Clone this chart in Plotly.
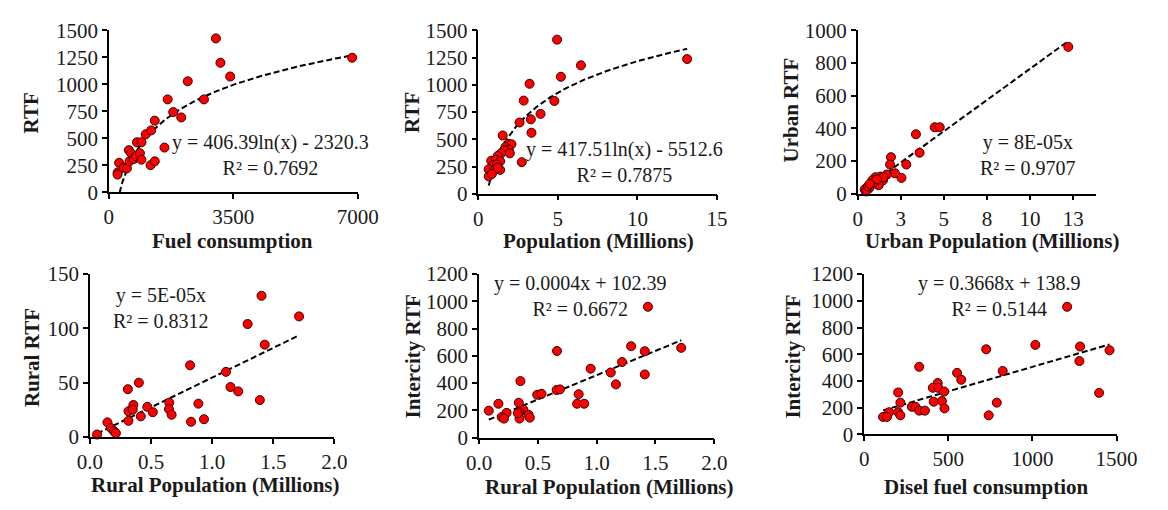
import numpy as np
import plotly.graph_objects as go

# ---------------- data ----------------
# Panel 1: total RTF vs fuel consumption
fuel = [250, 245, 290, 418, 508, 563, 628, 582, 699, 765, 874, 918, 792, 918, 1038,
        1191, 1292, 1174, 1292, 1565, 1811, 2037, 1655, 2220, 2676, 3012, 3140, 3414, 6845]
rtf_fuel = [185, 165, 274, 229, 223, 391, 362, 288, 309, 332, 362, 303, 464, 464, 538,
            574, 664, 252, 288, 415, 744, 694, 861, 1029, 861, 1426, 1200, 1073, 1247]

# Panel 2: total RTF vs population (millions)
pop = [4.95, 13.13, 6.45, 5.19, 3.22, 2.85, 4.78, 3.91, 2.59, 3.30, 3.34, 1.53, 2.73,
       1.87, 2.08, 1.71, 1.91, 1.63, 1.98, 1.43, 1.22, 0.81, 1.10, 1.37, 0.96, 1.16,
       0.65, 1.06, 1.37, 0.65, 0.85, 1.22]
rtf_pop = [1415, 1237, 1179, 1074, 1010, 855, 852, 733, 654, 683, 560, 535, 290,
           458, 455, 429, 406, 400, 371, 371, 347, 303, 312, 298, 268, 268,
           225, 225, 219, 160, 181, 240]

# Panel 3: urban RTF vs urban population (millions)
urban_pop = [12.22, 4.47, 4.76, 3.38, 3.59, 1.93, 1.88, 2.82, 2.16, 2.54, 1.69, 1.47,
             1.32, 1.03, 1.03, 0.75, 0.56, 0.41, 0.47, 1.22, 0.85, 0.66, 1.50, 0.50,
             0.60, 0.95, 1.12, 0.70]
urban_rtf = [899, 407, 407, 364, 251, 224, 179, 179, 125, 97, 117, 82,
             105, 101, 62, 52, 39, 27, 14, 52, 82, 33, 101, 20,
             45, 70, 88, 60]

# Panel 4: rural RTF vs rural population (millions)
rural_pop = [1.404, 1.711, 1.290, 1.430, 0.819, 1.113, 1.150, 1.213, 1.390, 0.400,
             0.310, 0.355, 0.469, 0.514, 0.649, 0.646, 0.668, 0.887, 0.933, 0.827,
             0.315, 0.350, 0.416, 0.315, 0.143, 0.172, 0.196, 0.212, 0.058]
rural_rtf = [130, 111, 104, 85, 66, 60, 46, 42, 34, 50,
             44, 29.5, 27.8, 22.8, 31.6, 25.7, 20.5, 30.7, 16.4, 14,
             23.7, 25.2, 19, 14.9, 13.5, 8.2, 5.3, 3.5, 2.3]

# Panel 5: intercity RTF vs rural population (millions)
rural_pop_ic = [1.436, 1.719, 1.293, 1.409, 0.663, 1.216, 1.120, 0.949, 1.409, 1.164,
                0.352, 0.495, 0.531, 0.660, 0.688, 0.847, 0.834, 0.894, 0.165, 0.083,
                0.338, 0.377, 0.344, 0.234, 0.193, 0.212, 0.344, 0.421, 0.432, 0.330]
intercity_rtf = [960, 659, 671, 634, 636, 555, 478, 506, 464, 391,
                 415, 315, 322, 350, 354, 319, 249, 249, 249, 198,
                 256, 205, 186, 182, 151, 140, 140, 168, 147, 180]

# Panel 6: intercity RTF vs diesel fuel consumption
diesel = [1206, 1017, 1283, 1458, 725, 1279, 327, 552, 577, 823, 437, 408, 440, 475,
          202, 1396, 462, 413, 788, 215, 283, 304, 477, 327, 361, 148, 202, 215, 740,
          112, 135]
intercity_rtf_d = [955, 670, 658, 630, 637, 549, 506, 461, 409, 475, 385, 349, 349, 321,
                   314, 311, 250, 245, 238, 238, 207, 207, 195, 178, 178, 166, 166, 143, 143,
                   131, 131]

# fitted trend coefficients and goodness of fit
log_fuel = (406.39, -2320.3)
log_pop = (417.51, -5512.6)
urban_slope = 7.65e-05
rural_slope = 5.47e-05
ic_rural = (3.56e-04, 102.39)
ic_diesel = (0.3668, 138.9)
r2 = ["0.7692", "0.7875", "0.9707", "0.8312", "0.6672", "0.5144"]

# ---------------- layout helpers ----------------
W, H = 1168, 510
FONT = "Liberation Serif, Times New Roman, serif"
TICK_SIZE = 21
TITLE_SIZE = 21
EQ_SIZE = 20

# plot boxes in pixels: (left, right, top, bottom)
boxes = [
    (98.7, 355.0, 19.3, 189.3),
    (479.3, 725.0, 19.3, 190.7),
    (870.0, 1115.0, 19.3, 190.7),
    (79.3, 331.0, 275.0, 446.0),
    (480.0, 722.3, 275.0, 446.7),
    (876.7, 1136.7, 275.0, 443.3),
]


def xdom(b):
    return [b[0] / W, b[1] / W]


def ydom(b):
    return [1 - b[3] / H, 1 - b[2] / H]


fig = go.Figure()

marker = dict(color="#FF0000", size=9, line=dict(color="#3a0000", width=1))
trend_line = dict(color="black", width=2, dash="6px,3px")

panels = [
    (fuel, rtf_fuel), (pop, rtf_pop), (urban_pop, urban_rtf),
    (rural_pop, rural_rtf), (rural_pop_ic, intercity_rtf), (diesel, intercity_rtf_d),
]


# trend curves computed from the fitted equations
def trend(i, x):
    if i == 0:
        return log_fuel[0] * np.log(x) + log_fuel[1]
    if i == 1:
        return log_pop[0] * np.log(x * 1e6) + log_pop[1]
    if i == 2:
        return urban_slope * x * 1e6
    if i == 3:
        return rural_slope * x * 1e6
    if i == 4:
        return ic_rural[0] * x * 1e6 + ic_rural[1]
    return ic_diesel[0] * x + ic_diesel[1]


for i, (xs, ys) in enumerate(panels):
    ax = "" if i == 0 else str(i + 1)
    xt = np.linspace(min(xs), max(xs), 300)
    fig.add_trace(go.Scatter(x=xt, y=trend(i, xt), mode="lines", line=trend_line,
                             xaxis="x" + ax, yaxis="y" + ax, hoverinfo="skip",
                             showlegend=False))
    fig.add_trace(go.Scatter(x=xs, y=ys, mode="markers", marker=marker,
                             xaxis="x" + ax, yaxis="y" + ax, showlegend=False,
                             cliponaxis=False))

x_specs = [
    dict(range=[0, 7000], tickvals=[0, 3500, 7000]),
    dict(range=[0, 15], tickvals=[0, 5, 10, 15]),
    dict(range=[0, 13.8], tickvals=[0, 2.5, 5, 7.5, 10, 12.5],
         ticktext=["0", "3", "5", "8", "10", "13"]),
    dict(range=[0, 2], tickvals=[0, 0.5, 1.0, 1.5, 2.0],
         ticktext=["0.0", "0.5", "1.0", "1.5", "2.0"]),
    dict(range=[0, 2], tickvals=[0, 0.5, 1.0, 1.5, 2.0],
         ticktext=["0.0", "0.5", "1.0", "1.5", "2.0"]),
    dict(range=[0, 1500], tickvals=[0, 500, 1000, 1500]),
]
y_specs = [
    dict(range=[0, 1500], tickvals=[0, 250, 500, 750, 1000, 1250, 1500]),
    dict(range=[0, 1500], tickvals=[0, 250, 500, 750, 1000, 1250, 1500]),
    dict(range=[0, 1000], tickvals=[0, 200, 400, 600, 800, 1000]),
    dict(range=[0, 150], tickvals=[0, 50, 100, 150]),
    dict(range=[0, 1200], tickvals=[0, 200, 400, 600, 800, 1000, 1200]),
    dict(range=[0, 1200], tickvals=[0, 200, 400, 600, 800, 1000, 1200]),
]

axis_common = dict(showgrid=False, zeroline=False, showline=True, linecolor="black",
                   linewidth=1.5, ticks="outside", ticklen=5, tickwidth=1.5,
                   tickcolor="black", tickfont=dict(family=FONT, size=TICK_SIZE, color="#1a1a1a"),
                   fixedrange=True)

layout = dict(width=W, height=H, margin=dict(l=0, r=0, t=0, b=0),
              paper_bgcolor="white", plot_bgcolor="white", showlegend=False)

for i, b in enumerate(boxes):
    ax = "" if i == 0 else str(i + 1)
    xa = dict(axis_common, domain=xdom(b), anchor="y" + ax, **x_specs[i])
    ya = dict(axis_common, domain=ydom(b), anchor="x" + ax, **y_specs[i])
    layout["xaxis" + ax] = xa
    layout["yaxis" + ax] = ya

fig.update_layout(**layout)

# axis titles (x titles centred below, y titles rotated on the left)
x_titles = [
    ("Fuel consumption", 226, 240.7),
    ("Population (Millions)", 603, 240.0),
    ("Urban Population (Millions)", 1008, 240.0),
    ("Rural Population (Millions)", 209, 496.7),
    ("Rural Population (Millions)", 614, 498.3),
    ("Disel fuel consumption", 1003, 498.3),
]
y_titles = [
    ("RTF", 19, 106),
    ("RTF", 411, 106),
    ("Urban RTF", 801.7, 103),
    ("Rural RTF", 19.7, 363),
    ("Intercity RTF", 411.7, 361.7),
    ("Intercity RTF", 803, 362),
]


def fmt(v):
    return f"{v:g}"


eq_texts = [
    f"y = {fmt(log_fuel[0])}ln(x) - {fmt(abs(log_fuel[1]))}",
    f"y = {fmt(log_pop[0])}ln(x) - {fmt(abs(log_pop[1]))}",
    f"y = {urban_slope:.0E}x",
    f"y = {rural_slope:.0E}x",
    f"y = {ic_rural[0]:.4f}x + {fmt(ic_rural[1])}",
    f"y = {fmt(ic_diesel[0])}x + {fmt(ic_diesel[1])}",
]
# centre of each equation / R² block in pixels
eq_pos = [
    (265.5, 150.0),
    (630.0, 157.0),
    (1045.5, 150.3),
    (152.5, 311.0),
    (584.0, 298.0),
    (1016.0, 298.3),
]

annotations = []
for t, x, y in x_titles:
    annotations.append(dict(text=f"<b>{t}</b>", x=x / W, y=1 - y / H, xref="paper",
                            yref="paper", showarrow=False, xanchor="center",
                            yanchor="middle",
                            font=dict(family=FONT, size=TITLE_SIZE, color="#1a1a1a")))
for t, x, y in y_titles:
    annotations.append(dict(text=f"<b>{t}</b>", x=x / W, y=1 - y / H, xref="paper",
                            yref="paper", showarrow=False, xanchor="center",
                            yanchor="middle", textangle=-90,
                            font=dict(family=FONT, size=TITLE_SIZE, color="#1a1a1a")))
for i, (ex, ey) in enumerate(eq_pos):
    annotations.append(dict(text=f"{eq_texts[i]}<br>R² = {r2[i]}", x=ex / W,
                            y=1 - ey / H, xref="paper", yref="paper", showarrow=False,
                            xanchor="center", yanchor="middle", align="center",
                            font=dict(family=FONT, size=EQ_SIZE, color="#1a1a1a")))

fig.update_layout(annotations=annotations)

fig.write_html("out.html")
